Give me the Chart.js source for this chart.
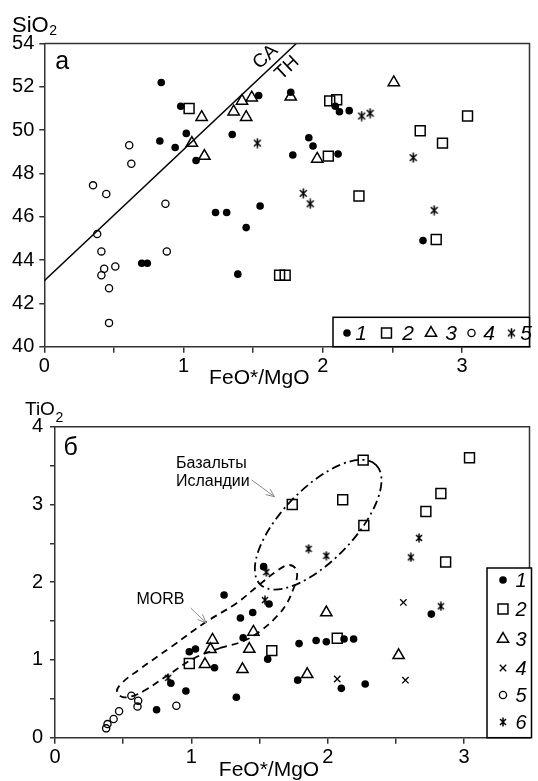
<!DOCTYPE html>
<html lang="ru">
<head>
    <meta charset="UTF-8">
    <title>SiO2, TiO2 – FeO*/MgO</title>
    <style>
        body, html {
            margin: 0;
            padding: 0;
            background: #ffffff;
        }
        .wrap {
            position: relative;
            width: 538px;
            height: 781px;
        }
        canvas {
            position: absolute;
            left: 0;
        }
        #chartA { top: 0; }
        #chartB { top: 390px; }
    </style>
</head>
<body>
    <div class="wrap">
        <canvas id="chartA" width="538" height="390"></canvas>
        <canvas id="chartB" width="538" height="391"></canvas>
    </div>

    <script src="https://cdn.jsdelivr.net/npm/chart.js"></script>
    <script>
        // ---- panel а: SiO2 vs FeO*/MgO
        const a1x = [0.84, 0.98, 0.83, 0.94, 1.02, 1.09, 1.54, 1.35, 0.70, 0.74, 1.23, 1.31, 1.55, 1.45, 1.39, 1.77, 2.09, 2.12, 2.19, 1.90, 1.93, 1.785, 2.11, 2.72];
        const a1y = [52.2, 51.1, 49.5, 49.2, 49.85, 48.6, 51.6, 49.8, 43.85, 43.85, 46.2, 46.2, 46.5, 45.5, 43.35, 51.75, 51.1, 50.85, 50.9, 49.65, 49.27, 48.85, 48.9, 44.9];
        const a2x = [1.04, 2.05, 2.10, 3.04, 2.70, 2.86, 2.04, 2.26, 2.815, 1.69, 1.73];
        const a2y = [51.0, 51.35, 51.4, 50.65, 49.97, 49.4, 48.8, 46.96, 44.95, 43.3, 43.3];
        const a3x = [1.13, 1.06, 1.15, 1.36, 1.42, 1.49, 1.45, 1.77, 1.96, 2.51];
        const a3y = [50.6, 49.4, 48.8, 50.85, 51.35, 51.5, 50.6, 51.54, 48.67, 52.2];
        const a4x = [0.61, 0.625, 0.35, 0.445, 0.38, 0.41, 0.43, 0.41, 0.51, 0.465, 0.465, 0.87, 0.88];
        const a4y = [49.3, 48.45, 47.45, 47.05, 45.2, 44.4, 43.6, 43.3, 43.7, 42.7, 41.1, 46.6, 44.4];
        const a5x = [1.53, 2.28, 2.34, 2.65, 1.86, 1.91, 2.80];
        const a5y = [49.4, 50.65, 50.78, 48.73, 47.08, 46.6, 46.3];

        // CA / TH boundary
        const caThX = [0, 1.81];
        const caThY = [43.05, 54];
        const boundaryLabels = ['CA', 'TH'];
        const boundaryLabelX = [1.589, 1.745];
        const boundaryLabelY = [53.38, 52.87];

        const siTicks = [40, 42, 44, 46, 48, 50, 52, 54];
        const xTicks = [0, 1, 2, 3];
        const legendA = ['1', '2', '3', '4', '5'];

        // ---- panel б: TiO2 vs FeO*/MgO
        const b1x = [1.53, 1.57, 2.76, 1.79, 1.915, 1.99, 2.12, 2.19, 1.56, 1.78, 2.10, 2.275, 1.24, 1.36, 1.45, 1.38, 1.33, 0.985, 1.03, 1.17, 0.85, 0.96, 0.745];
        const b1y = [2.2, 1.72, 1.59, 1.21, 1.25, 1.235, 1.27, 1.27, 1.01, 0.74, 0.635, 0.69, 1.835, 1.54, 1.61, 1.285, 0.52, 1.105, 1.14, 0.90, 0.70, 0.60, 0.36];
        const b2x = [2.26, 3.04, 2.83, 2.72, 1.74, 2.11, 2.265, 2.865, 2.07, 1.59, 0.985];
        const b2y = [3.57, 3.60, 3.14, 2.91, 3.00, 3.06, 2.73, 2.26, 1.28, 1.12, 0.955];
        const b3x = [1.99, 2.52, 1.85, 1.455, 1.425, 1.375, 1.155, 1.14, 1.10];
        const b3y = [1.61, 1.06, 0.815, 1.36, 1.14, 0.88, 1.257, 1.137, 0.944];
        const b4x = [2.555, 2.07, 2.57];
        const b4y = [1.74, 0.755, 0.74];
        const b5x = [0.56, 0.61, 0.605, 0.47, 0.43, 0.385, 0.375, 0.89];
        const b5y = [0.54, 0.475, 0.40, 0.34, 0.24, 0.175, 0.12, 0.41];
        const b6x = [2.67, 2.61, 1.86, 1.99, 1.55, 1.54, 2.83, 0.83];
        const b6y = [2.57, 2.32, 2.43, 2.34, 2.13, 1.77, 1.69, 0.77];

        // outline fields
        const morbX = [1.211, 1.384, 1.507, 1.630, 1.702, 1.745, 1.774, 1.766, 1.716, 1.637, 1.478, 1.334, 1.096, 0.851, 0.613, 0.483, 0.454, 0.497, 0.570, 0.663, 0.829, 1.024, 1.211];
        const morbY = [1.154, 1.244, 1.373, 1.566, 1.733, 1.900, 2.054, 2.170, 2.221, 2.157, 1.938, 1.733, 1.475, 1.167, 0.871, 0.691, 0.588, 0.523, 0.536, 0.613, 0.806, 1.025, 1.154];
        const iceCenter = [1.93, 2.74];
        const iceMajorEnd = [2.354, 3.51];

        const tiTicks = [0, 1, 2, 3, 4];
        const legendB = ['1', '2', '3', '4', '5', '6'];

        const FONT = '"Liberation Sans", Arial, Helvetica, sans-serif';
        const INK = '#000';
        const AXIS = '#333';
        const NONE = 'rgba(0,0,0,0)';

        Chart.defaults.font.family = FONT;

        function pts(xs, ys) {
            return xs.map((x, i) => ({ x: x, y: ys[i] }));
        }

        function asterisk(w, h) {
            const c = document.createElement('canvas');
            c.width = w;
            c.height = h;
            const g = c.getContext('2d');
            g.strokeStyle = INK;
            g.lineWidth = 1.5;
            g.beginPath();
            g.moveTo(w / 2, 0.5); g.lineTo(w / 2, h - 0.5);
            g.moveTo(1, h * 0.2); g.lineTo(w - 1, h * 0.8);
            g.moveTo(1, h * 0.8); g.lineTo(w - 1, h * 0.2);
            g.stroke();
            return c;
        }

        const mFilled = { pointStyle: 'circle', radius: 3.8, fill: INK, border: 0 };
        const mSquare = { pointStyle: 'rect', radius: 7, fill: NONE, border: 1.5 };
        const mTriangle = { pointStyle: 'triangle', radius: 6.5, fill: NONE, border: 1.5 };
        const mOpen = { pointStyle: 'circle', radius: 3.6, fill: NONE, border: 1.3 };
        const mCross = { pointStyle: 'crossRot', radius: 4.5, fill: NONE, border: 1.3 };
        const mStarA = { pointStyle: asterisk(9, 11), radius: 5, fill: NONE, border: 0 };
        const mStarB = { pointStyle: asterisk(8, 10), radius: 5, fill: NONE, border: 0 };

        function scatterSet(label, xs, ys, m) {
            return {
                label: label,
                data: pts(xs, ys),
                showLine: false,
                pointStyle: m.pointStyle,
                pointRadius: m.radius,
                pointBackgroundColor: m.fill,
                pointBorderColor: INK,
                pointBorderWidth: m.border
            };
        }

        function drawMarker(ctx, m, px, py) {
            ctx.save();
            ctx.fillStyle = m.fill;
            ctx.strokeStyle = INK;
            ctx.lineWidth = m.border;
            Chart.helpers.drawPoint(ctx, { pointStyle: m.pointStyle, radius: m.radius, rotation: 0, borderWidth: m.border }, px, py);
            ctx.restore();
        }

        function axes(o) {
            const tickFont = { family: FONT, size: 20 };
            return {
                x: {
                    type: 'linear',
                    min: 0,
                    max: o.xMax,
                    border: { display: true, color: AXIS, width: 1.5 },
                    grid: { drawOnChartArea: false, drawTicks: true, tickLength: 6, color: AXIS, lineWidth: 1.5 },
                    ticks: {
                        stepSize: 0.5, includeBounds: false, autoSkip: false, maxRotation: 0,
                        padding: 2, color: INK, font: tickFont,
                        callback: v => xTicks.includes(v) ? String(v) : ''
                    },
                    afterFit: s => { s.height = o.xHeight; }
                },
                y: {
                    type: 'linear',
                    min: o.yMin,
                    max: o.yMax,
                    border: { display: true, color: AXIS, width: 1.5 },
                    grid: { drawOnChartArea: false, drawTicks: true, tickLength: 5, color: AXIS, lineWidth: 1.5 },
                    ticks: {
                        stepSize: o.yStep, includeBounds: false, autoSkip: false,
                        padding: o.yPad, color: INK, font: tickFont,
                        callback: v => o.yLabels.includes(v) ? String(v) : ''
                    },
                    afterFit: s => { s.width = o.yWidth; }
                }
            };
        }

        function subLabel(ctx, main, sub, x, y, size, subSize, subDrop) {
            ctx.font = size + 'px ' + FONT;
            ctx.fillText(main, x, y);
            const w = ctx.measureText(main).width;
            ctx.font = subSize + 'px ' + FONT;
            ctx.fillText(sub, x + w + 0.5, y + subDrop);
        }

        function frame(ctx, ca) {
            ctx.strokeStyle = AXIS;
            ctx.lineWidth = 1.5;
            ctx.beginPath();
            ctx.moveTo(ca.left, ca.top);
            ctx.lineTo(ca.right, ca.top);
            ctx.lineTo(ca.right, ca.bottom);
            ctx.stroke();
        }

        function arrow(ctx, x0, y0, x1, y1) {
            const ang = Math.atan2(y1 - y0, x1 - x0);
            ctx.strokeStyle = '#8a8a8a';
            ctx.lineWidth = 1;
            ctx.setLineDash([]);
            ctx.beginPath();
            ctx.moveTo(x0, y0);
            ctx.lineTo(x1, y1);
            ctx.moveTo(x1 - 9 * Math.cos(ang - 0.4), y1 - 9 * Math.sin(ang - 0.4));
            ctx.lineTo(x1, y1);
            ctx.lineTo(x1 - 9 * Math.cos(ang + 0.4), y1 - 9 * Math.sin(ang + 0.4));
            ctx.stroke();
        }

        const markersA = [mFilled, mSquare, mTriangle, mOpen, mStarA];
        const markersB = [mFilled, mSquare, mTriangle, mCross, mOpen, mStarB];

        const extrasA = {
            id: 'extrasA',
            afterDraw(chart) {
                const { ctx, chartArea: ca, scales: { x, y } } = chart;
                ctx.save();
                frame(ctx, ca);

                ctx.fillStyle = INK;
                ctx.textAlign = 'left';
                ctx.textBaseline = 'alphabetic';
                subLabel(ctx, 'SiO', '2', 12, 31.5, 22, 14, 3);
                ctx.font = '25px ' + FONT;
                ctx.fillText('а', ca.left + 11, ca.top + 25);

                ctx.font = '21px ' + FONT;
                ctx.textAlign = 'center';
                ctx.textBaseline = 'middle';
                ctx.fillText('FeO*/MgO', ca.left + 215, ca.bottom + 32);

                // boundary labels, rotated along the line
                const p0x = x.getPixelForValue(caThX[0]), p0y = y.getPixelForValue(caThY[0]);
                const p1x = x.getPixelForValue(caThX[1]), p1y = y.getPixelForValue(caThY[1]);
                const ang = Math.atan2(p1y - p0y, p1x - p0x);
                ctx.font = '19px ' + FONT;
                boundaryLabels.forEach((t, i) => {
                    ctx.save();
                    ctx.translate(x.getPixelForValue(boundaryLabelX[i]), y.getPixelForValue(boundaryLabelY[i]));
                    ctx.rotate(ang);
                    ctx.fillText(t, 0, 0);
                    ctx.restore();
                });

                // legend
                const top = 317.3, left = 333;
                ctx.fillStyle = '#fff';
                ctx.fillRect(left, top, ca.right - left, ca.bottom - top);
                ctx.strokeStyle = INK;
                ctx.lineWidth = 1.5;
                ctx.strokeRect(left, top, ca.right - left, ca.bottom - top);
                const symX = [347, 386.5, 431, 471.5, 511.5];
                const txtX = [361, 408, 451, 489, 526];
                ctx.fillStyle = INK;
                ctx.font = 'italic 21px ' + FONT;
                legendA.forEach((t, i) => {
                    drawMarker(ctx, markersA[i], symX[i], 333);
                    ctx.fillStyle = INK;
                    ctx.fillText(t, txtX[i], 334.5);
                });
                ctx.restore();
            }
        };

        const extrasB = {
            id: 'extrasB',
            afterDraw(chart) {
                const { ctx, chartArea: ca, scales: { x, y } } = chart;
                ctx.save();
                frame(ctx, ca);

                ctx.fillStyle = INK;
                ctx.textAlign = 'left';
                ctx.textBaseline = 'alphabetic';
                subLabel(ctx, 'TiO', '2', 25, 25, 19, 14, 6.5);
                ctx.font = '25px ' + FONT;
                ctx.fillText('б', ca.left + 8.5, ca.top + 28.5);

                ctx.font = '21px ' + FONT;
                ctx.textAlign = 'center';
                ctx.textBaseline = 'middle';
                ctx.fillText('FeO*/MgO', ca.left + 214, ca.bottom + 32.5);

                // Iceland basalt field (dash-dot)
                const cx = x.getPixelForValue(iceCenter[0]), cy = y.getPixelForValue(iceCenter[1]);
                const ex = x.getPixelForValue(iceMajorEnd[0]), ey = y.getPixelForValue(iceMajorEnd[1]);
                ctx.strokeStyle = INK;
                ctx.lineWidth = 1.8;
                ctx.setLineDash([9, 4, 2, 4]);
                ctx.beginPath();
                ctx.ellipse(cx, cy, Math.hypot(ex - cx, ey - cy), 36, Math.atan2(ey - cy, ex - cx), 0, Math.PI * 2);
                ctx.stroke();
                ctx.setLineDash([]);

                // annotations
                ctx.fillStyle = INK;
                ctx.font = '16px ' + FONT;
                ctx.textAlign = 'left';
                ctx.fillText('Базальты', x.getPixelForValue(0.887), y.getPixelForValue(3.53));
                ctx.fillText('Исландии', x.getPixelForValue(0.887), y.getPixelForValue(3.29));
                ctx.fillText('MORB', x.getPixelForValue(0.598), y.getPixelForValue(1.771));
                arrow(ctx, x.getPixelForValue(1.442), y.getPixelForValue(3.315), x.getPixelForValue(1.61), y.getPixelForValue(3.10));
                arrow(ctx, x.getPixelForValue(0.995), y.getPixelForValue(1.668), x.getPixelForValue(1.108), y.getPixelForValue(1.479));

                // legend
                const top = 178, left = 487;
                ctx.fillStyle = '#fff';
                ctx.fillRect(left, top, ca.right - left + 2, ca.bottom - top);
                ctx.strokeStyle = INK;
                ctx.lineWidth = 1.5;
                ctx.strokeRect(left, top, ca.right - left + 2, ca.bottom - top);
                const rowY = [190, 219, 249, 278, 305, 332];
                ctx.font = 'italic 20px ' + FONT;
                ctx.textAlign = 'center';
                legendB.forEach((t, i) => {
                    drawMarker(ctx, markersB[i], 503, rowY[i]);
                    ctx.fillStyle = INK;
                    ctx.fillText(t, 521, rowY[i] + 1);
                });
                ctx.restore();
            }
        };

        const common = {
            responsive: false,
            animation: false,
            events: [],
            plugins: { legend: { display: false }, tooltip: { enabled: false } }
        };

        new Chart(document.getElementById('chartA'), {
            type: 'scatter',
            data: {
                datasets: [
                    scatterSet('1', a1x, a1y, mFilled),
                    scatterSet('2', a2x, a2y, mSquare),
                    scatterSet('3', a3x, a3y, mTriangle),
                    scatterSet('4', a4x, a4y, mOpen),
                    scatterSet('5', a5x, a5y, mStarA),
                    {
                        label: 'CA-TH',
                        data: pts(caThX, caThY),
                        showLine: true,
                        pointRadius: 0,
                        borderColor: INK,
                        borderWidth: 1.5
                    }
                ]
            },
            options: Object.assign({}, common, {
                layout: { padding: { top: 43.5, right: 1, left: 0, bottom: 0 } },
                scales: axes({ xMax: 3.485, yMin: 40, yMax: 54, yStep: 2, yLabels: siTicks, yWidth: 44.3, xHeight: 43.3, yPad: 5 })
            }),
            plugins: [extrasA]
        });

        new Chart(document.getElementById('chartB'), {
            type: 'scatter',
            data: {
                datasets: [
                    scatterSet('1', b1x, b1y, mFilled),
                    scatterSet('2', b2x, b2y, mSquare),
                    scatterSet('3', b3x, b3y, mTriangle),
                    scatterSet('4', b4x, b4y, mCross),
                    scatterSet('5', b5x, b5y, mOpen),
                    scatterSet('6', b6x, b6y, mStarB),
                    {
                        label: 'MORB',
                        data: pts(morbX, morbY),
                        showLine: true,
                        tension: 0.4,
                        pointRadius: 0,
                        borderColor: INK,
                        borderWidth: 1.8,
                        borderDash: [7, 5]
                    }
                ]
            },
            options: Object.assign({}, common, {
                layout: { padding: { top: 36.7, right: 0, left: 0, bottom: 0 } },
                scales: axes({ xMax: 3.48, yMin: 0, yMax: 4, yStep: 0.5, yLabels: tiTicks, yWidth: 55, xHeight: 43.3, yPad: 7 })
            }),
            plugins: [extrasB]
        });
    </script>
</body>
</html>
